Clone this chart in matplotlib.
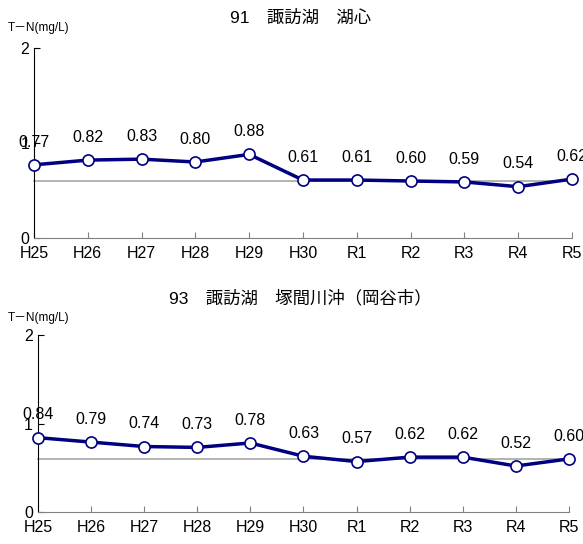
import matplotlib
matplotlib.use("Agg")
import matplotlib.pyplot as plt

plt.rcParams['font.family'] = ['Liberation Sans', 'Noto Sans CJK JP', 'DejaVu Sans']

years = ["H25", "H26", "H27", "H28", "H29", "H30", "R1", "R2", "R3", "R4", "R5"]
tn_91 = [0.77, 0.82, 0.83, 0.80, 0.88, 0.61, 0.61, 0.60, 0.59, 0.54, 0.62]
tn_93 = [0.84, 0.79, 0.74, 0.73, 0.78, 0.63, 0.57, 0.62, 0.62, 0.52, 0.60]
standard = 0.6
titles = ["91\u3000諏訪湖\u3000湖心", "93\u3000諏訪湖\u3000塚間川沖（岡谷市）"]
ylabel = "T－N(mg/L)"

fig = plt.figure(figsize=(5.83, 5.44), dpi=100)

# [left, bottom, width, height], title y, ylabel y
panels = [
    ([0.0583, 0.5625, 0.9228, 0.3493], 0.967, 0.949, tn_91, titles[0]),
    ([0.0650, 0.0588, 0.9110, 0.3254], 0.452, 0.415, tn_93, titles[1]),
]

x = list(range(len(years)))
for rect, ty, ly, vals, title in panels:
    ax = fig.add_axes(rect)
    ax.plot([0, len(years) - 1], [standard, standard], color="#a6a6a6", lw=1.2, zorder=1,
            clip_on=False)
    ax.plot(x, vals, color="#000080", lw=2.5, marker="o", ms=8, mfc="white",
            mec="#000080", mew=1.2, clip_on=False, zorder=3)
    for xi, v in zip(x, vals):
        ax.annotate(f"{v:.2f}", (xi, v), xytext=(0, 11), textcoords="offset points",
                    ha="center", va="bottom", fontsize=11.5)
    ax.set_xlim(0, len(years) - 1)
    ax.set_ylim(0, 2)
    ax.set_yticks([0, 1, 2])
    ax.set_xticks(x)
    ax.set_xticklabels(years)
    for s in ("top", "right"):
        ax.spines[s].set_visible(False)
    ax.spines["bottom"].set_color("#808080")
    ax.spines["left"].set_color("black")
    ax.tick_params(axis="both", direction="in", length=4, labelsize=11.5)
    ax.tick_params(axis="x", colors="#808080", labelcolor="black", pad=6)
    fig.text(0.515, ty, title, ha="center", va="center", fontsize=12.5)
    fig.text(0.013, ly, ylabel, ha="left", va="center", fontsize=8.5)

fig.savefig("out.png", dpi=100)
